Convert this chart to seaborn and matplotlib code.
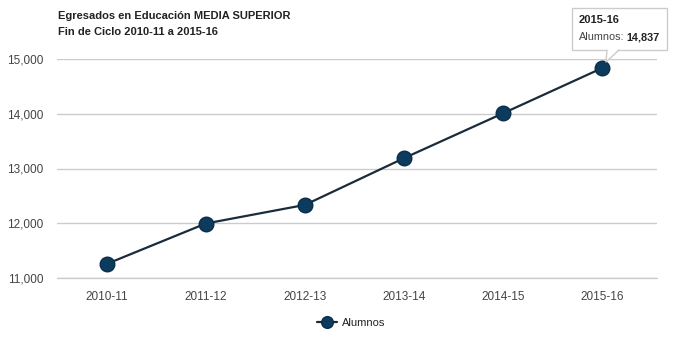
import matplotlib
matplotlib.use("Agg")
import pandas as pd
import seaborn as sns
from matplotlib import pyplot as plt
from matplotlib.patches import Rectangle, Polygon
from matplotlib.lines import Line2D

ciclos = ["2010-11", "2011-12", "2012-13", "2013-14", "2014-15", "2015-16"]
alumnos = [11256, 11995, 12335, 13190, 14010, 14837]
yticks = [11000, 12000, 13000, 14000, 15000]

data = pd.DataFrame({"Ciclo": ciclos, "Alumnos": alumnos})

sns.set_style("white")
plt.rcParams["font.family"] = ["Liberation Sans", "DejaVu Sans"]

W, H = 685, 352
fig = plt.figure(figsize=(W / 100, H / 100), dpi=100)
ax = fig.add_axes([57 / W, 1 - 278 / H, 600 / W, 219 / H])

sns.lineplot(data, x="Ciclo", y="Alumnos", ax=ax, color="#1b2b3a", linewidth=1.6,
             marker="o", markersize=10.5, markerfacecolor="#0c3b5e",
             markeredgecolor="#0a2e4a", markeredgewidth=1, label="Alumnos", sort=False,
             zorder=3)

ax.set_xlim(-0.5, len(ciclos) - 0.45)
ax.set_ylim(11000, 15000)
ax.set_yticks(yticks)
ax.set_yticklabels([f"{v:,}" for v in yticks])
ax.grid(axis="y", color="#cccccc", linewidth=1)
ax.axhline(11000, color="#cccccc", linewidth=1, clip_on=False, zorder=1)
ax.set_axisbelow(True)
for s in ax.spines.values():
    s.set_visible(False)
ax.tick_params(axis="x", length=0, labelsize=8.5, colors="#444444", pad=9)
ax.tick_params(axis="y", length=0, labelsize=8.5, colors="#444444", pad=10)
ax.set_xlabel("")
ax.set_ylabel("")

# titulo
fig.text(58 / W, 1 - 16 / H, "Egresados en Educación MEDIA SUPERIOR", fontsize=8, fontweight="bold",
         color="#222222", va="center")
fig.text(58 / W, 1 - 32 / H, "Fin de Ciclo 2010-11 a 2015-16", fontsize=8, fontweight="bold",
         color="#222222", va="center")

# leyenda
ax.legend(loc="center", bbox_to_anchor=(0.49, -0.205), frameon=False, fontsize=8,
          handlelength=1.8, handletextpad=0.4, markerscale=0.8, labelcolor="#222222")

# tooltip
tr = fig.transFigure
fig.patches.append(Rectangle((572 / W, 1 - 50 / H), 95 / W, 42 / H, transform=tr,
                             fc="white", ec="#cccccc", lw=1, zorder=5))
fig.patches.append(Polygon([(607 / W, 1 - 49 / H), (619 / W, 1 - 49 / H), (606 / W, 1 - 62 / H)],
                           closed=True, transform=tr, fc="white", ec="none", zorder=6))
fig.lines.append(Line2D([607 / W, 606 / W, 619 / W], [1 - 50 / H, 1 - 62 / H, 1 - 50 / H],
                        transform=tr, color="#cccccc", lw=1, zorder=7))
fig.text(579 / W, 1 - 20 / H, ciclos[-1], fontsize=8, fontweight="bold", color="#222222",
         va="center", zorder=8)
fig.text(579 / W, 1 - 37 / H, "Alumnos:", fontsize=7.8, color="#444444", va="center", zorder=8)
fig.text(626 / W, 1 - 37 / H, f"{alumnos[-1]:,}", fontsize=7.8, fontweight="bold",
         color="#222222", va="center", zorder=8)

plt.savefig("out.png", dpi=100)
